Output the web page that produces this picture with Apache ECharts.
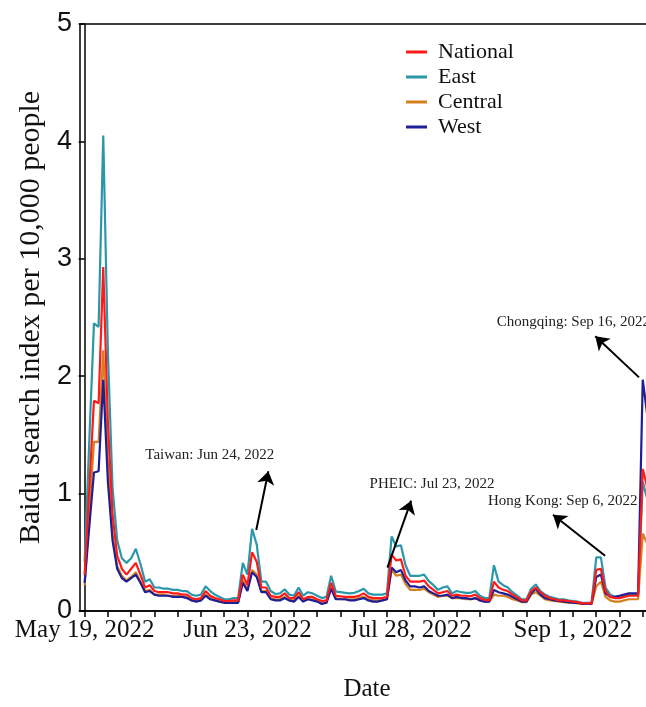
<!DOCTYPE html>
<html>
<head>
<meta charset="utf-8">
<script src="https://cdn.jsdelivr.net/npm/echarts@6/dist/echarts.min.js"></script>
<style>
  html, body { margin: 0; padding: 0; background: #fff; overflow: hidden; }
  /* the source figure is cut off at its right edge, so the chart runs past the window */
  #chart { width: 700px; height: 707px; }
</style>
</head>
<body>
<div id="chart"></div>
<script>
// days counted from May 19, 2022 (day 0)
var national = [0.31,1.05,1.79,1.77,2.93,1.6,0.82,0.47,0.36,0.31,0.36,0.41,0.31,0.2,0.22,0.17,0.16,0.16,0.16,0.15,
  0.15,0.14,0.14,0.11,0.1,0.11,0.17,0.13,0.11,0.1,0.085,0.085,0.09,0.09,0.31,0.22,0.5,0.42,0.2,0.2,
  0.13,0.12,0.12,0.15,0.11,0.11,0.16,0.1,0.12,0.12,0.1,0.085,0.09,0.24,0.13,0.125,0.12,0.12,0.12,0.13,
  0.15,0.12,0.11,0.11,0.11,0.12,0.48,0.43,0.44,0.3,0.25,0.25,0.25,0.26,0.21,0.18,0.15,0.16,0.17,0.13,
  0.14,0.13,0.13,0.125,0.14,0.11,0.095,0.09,0.25,0.2,0.18,0.17,0.14,0.115,0.09,0.09,0.17,0.2,0.16,0.13,
  0.11,0.1,0.09,0.09,0.085,0.08,0.075,0.065,0.065,0.065,0.35,0.36,0.17,0.12,0.11,0.11,0.12,0.13,0.13,0.13,
  1.21,1.05];
var east = [0.42,1.45,2.45,2.42,4.05,2.2,1.05,0.6,0.45,0.41,0.45,0.53,0.4,0.25,0.27,0.2,0.2,0.19,0.19,0.18,
  0.18,0.17,0.17,0.14,0.13,0.14,0.21,0.17,0.14,0.12,0.1,0.1,0.11,0.11,0.41,0.31,0.7,0.565,0.25,0.25,
  0.17,0.145,0.15,0.185,0.14,0.13,0.2,0.13,0.16,0.15,0.13,0.11,0.12,0.3,0.165,0.16,0.155,0.15,0.155,0.17,
  0.19,0.15,0.14,0.14,0.14,0.15,0.635,0.55,0.56,0.39,0.3,0.3,0.3,0.31,0.255,0.22,0.18,0.2,0.21,0.15,
  0.17,0.16,0.155,0.155,0.17,0.13,0.11,0.11,0.39,0.25,0.22,0.2,0.16,0.13,0.1,0.1,0.19,0.226,0.17,0.14,
  0.12,0.11,0.1,0.1,0.09,0.085,0.08,0.07,0.07,0.07,0.457,0.457,0.2,0.14,0.12,0.12,0.13,0.14,0.14,0.14,
  1.1,0.95];
var central = [0.22,0.85,1.44,1.44,2.22,1.25,0.65,0.38,0.3,0.26,0.29,0.33,0.25,0.17,0.18,0.14,0.14,0.14,0.13,0.13,
  0.13,0.12,0.12,0.09,0.09,0.09,0.14,0.11,0.09,0.08,0.07,0.07,0.075,0.075,0.26,0.18,0.35,0.31,0.17,0.17,
  0.11,0.1,0.1,0.12,0.09,0.09,0.13,0.09,0.1,0.1,0.09,0.07,0.075,0.2,0.11,0.1,0.1,0.1,0.1,0.11,
  0.12,0.1,0.09,0.09,0.09,0.1,0.35,0.3,0.31,0.23,0.18,0.18,0.18,0.19,0.16,0.14,0.12,0.13,0.13,0.11,
  0.11,0.11,0.1,0.1,0.11,0.09,0.08,0.08,0.14,0.13,0.13,0.12,0.1,0.09,0.075,0.075,0.14,0.16,0.13,0.1,
  0.09,0.085,0.08,0.075,0.07,0.07,0.065,0.06,0.06,0.06,0.21,0.25,0.12,0.09,0.08,0.08,0.09,0.1,0.1,0.1,
  0.66,0.57];
var west = [0.24,0.72,1.18,1.19,1.97,1.1,0.6,0.36,0.28,0.25,0.28,0.31,0.24,0.16,0.17,0.14,0.13,0.13,0.13,0.12,
  0.12,0.12,0.11,0.09,0.08,0.09,0.13,0.1,0.09,0.08,0.07,0.07,0.07,0.07,0.24,0.17,0.33,0.29,0.16,0.16,
  0.1,0.09,0.09,0.11,0.09,0.08,0.12,0.08,0.1,0.09,0.08,0.06,0.07,0.19,0.1,0.1,0.1,0.09,0.09,0.1,
  0.11,0.09,0.08,0.08,0.09,0.1,0.37,0.33,0.35,0.26,0.21,0.21,0.2,0.21,0.17,0.15,0.13,0.13,0.14,0.11,
  0.12,0.11,0.11,0.1,0.11,0.09,0.08,0.08,0.18,0.16,0.15,0.14,0.12,0.1,0.08,0.08,0.15,0.19,0.14,0.11,
  0.1,0.09,0.085,0.08,0.075,0.07,0.07,0.06,0.06,0.06,0.29,0.31,0.15,0.12,0.12,0.13,0.14,0.15,0.15,0.15,
  1.97,1.66];

var seriesNames = ['National', 'East', 'Central', 'West'];
var seriesColors = ['#ff1a1a', '#2b97aa', '#d4801f', '#1e1e96'];

var tickDays = [0, 35, 70, 105];
var tickLabels = ['May 19, 2022', 'Jun 23, 2022', 'Jul 28, 2022', 'Sep 1, 2022'];
var minorTickDays = [0,5,10,15,20,25,30,35,40,45,50,55,60,65,70,75,80,85,90,95,100,105,110,115,120,125];

// annotations: [day, value]
var noteTexts = ['Taiwan: Jun 24, 2022', 'PHEIC: Jul 23, 2022', 'Hong Kong: Sep 6, 2022', 'Chongqing: Sep 16, 2022'];
var notePos = [[26.9, 1.33], [74.7, 1.08], [102.8, 0.94], [105.1, 2.46]];
var arrowFrom = [[36.9, 0.69], [65.1, 0.37], [111.9, 0.47], [119.2, 1.99]];
var arrowTo = [[39.5, 1.19], [70.2, 0.94], [100.7, 0.82], [109.8, 2.34]];

function pairs(vals) {
  return vals.map(function (v, i) { return [i, v]; });
}

var serif = 'Liberation Serif';
var chart = echarts.init(document.getElementById('chart'));

var dataByName = { National: national, East: east, Central: central, West: west };
var drawOrder = ['East', 'Central', 'West', 'National'];

var series = drawOrder.map(function (name) {
  return {
    name: name,
    type: 'line',
    data: pairs(dataByName[name]),
    showSymbol: false,
    color: seriesColors[seriesNames.indexOf(name)],
    lineStyle: { width: 2.2 },
    emphasis: { disabled: true },
    animation: false
  };
});

series.push({
  name: 'notes',
  type: 'line',
  data: [],
  silent: true,
  animation: false,
  markLine: {
    silent: true,
    symbol: ['none', 'arrow'],
    symbolSize: 13,
    label: { show: false },
    lineStyle: { color: '#000', width: 2, type: 'solid' },
    data: arrowFrom.map(function (p, i) {
      return [{ coord: p }, { coord: arrowTo[i] }];
    })
  },
  markPoint: {
    silent: true,
    symbol: 'rect',
    symbolSize: 1,
    itemStyle: { color: 'rgba(0,0,0,0)' },
    label: {
      show: true,
      position: 'inside',
      color: '#222',
      fontFamily: serif,
      fontSize: 15
    },
    data: notePos.map(function (p, i) {
      return { coord: p, value: noteTexts[i], label: { formatter: noteTexts[i] } };
    })
  }
});

chart.setOption({
  backgroundColor: '#fff',
  animation: false,
  grid: {
    left: 80, top: 24, width: 586, height: 589,
    show: true, borderColor: '#000', borderWidth: 1.5
  },
  legend: {
    data: seriesNames,
    orient: 'vertical',
    left: 401,
    top: 36,
    itemWidth: 21,
    itemHeight: 3,
    itemGap: 3,
    icon: 'rect',
    textStyle: { fontFamily: serif, fontSize: 22, color: '#111', padding: [0, 0, 0, 6] }
  },
  xAxis: {
    type: 'value',
    min: -1,
    max: 125,
    name: 'Date',
    nameLocation: 'middle',
    nameGap: 66,
    nameTextStyle: { fontFamily: serif, fontSize: 25, color: '#111', padding: [0, 12, 0, 0] },
    axisLine: { lineStyle: { color: '#000', width: 1.5 } },
    axisTick: { show: true, length: 6, customValues: minorTickDays, lineStyle: { color: '#000', width: 1.5 } },
    axisLabel: {
      customValues: tickDays,
      margin: 7,
      fontFamily: serif,
      fontSize: 25,
      color: '#111',
      formatter: function (v) { return tickLabels[tickDays.indexOf(v)]; }
    },
    splitLine: { show: false }
  },
  yAxis: {
    type: 'value',
    min: 0,
    max: 5,
    interval: 1,
    name: 'Baidu search index per 10,000 people',
    nameLocation: 'middle',
    nameGap: 30,
    nameTextStyle: { fontFamily: serif, fontSize: 30, color: '#111' },
    axisLine: { show: true, lineStyle: { color: '#000', width: 1.5 } },
    axisTick: { show: true, length: 6, lineStyle: { color: '#000', width: 1.5 } },
    axisLabel: { margin: 8, fontFamily: 'Liberation Sans', fontSize: 27, color: '#111' },
    splitLine: { show: false }
  },
  series: series
});
</script>
</body>
</html>
